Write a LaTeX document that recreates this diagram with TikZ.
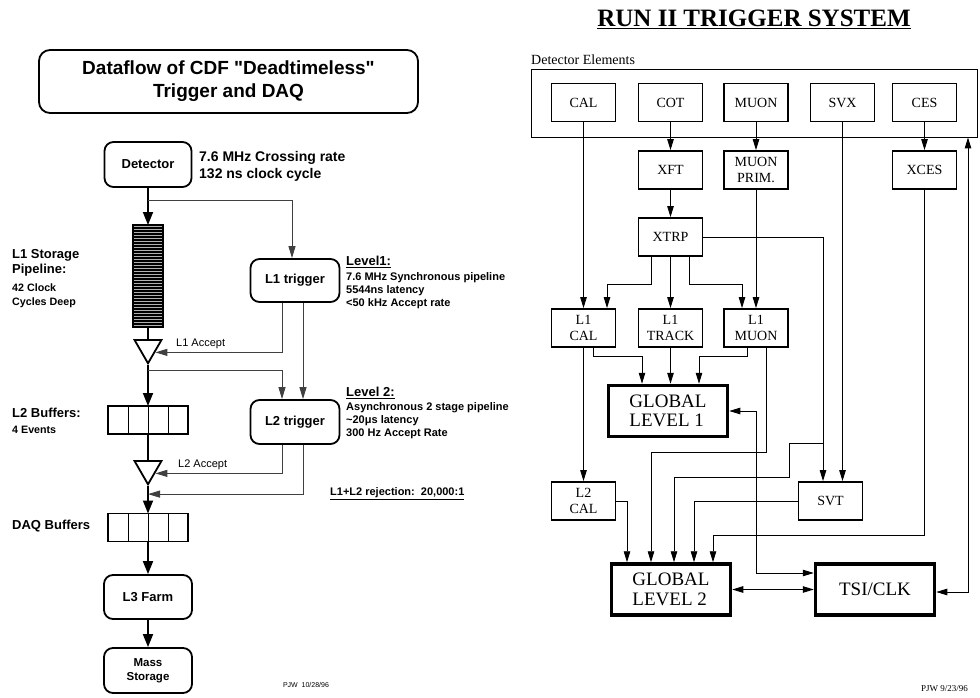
\documentclass[tikz,border=0pt]{standalone}
\usepackage{fontspec}
\setmainfont{Liberation Serif}
\setsansfont{Liberation Sans}
\usepackage{tikz}
\usetikzlibrary{arrows.meta, positioning, shapes.geometric}
\newcommand{\fsz}[2]{\fontsize{#1}{#2}\selectfont}

\begin{document}
\begin{tikzpicture}[x=1pt, y=-1pt,
  rbox/.style={draw, line width=1.8pt, rounded corners=9pt, align=center, inner sep=0pt,
    font=\sffamily\bfseries\fsz{13}{15}},
  buf/.style={draw, line width=1.8pt, minimum width=80pt, minimum height=28pt, inner sep=0pt, outer sep=0pt},
  gate/.style={draw, line width=1.8pt, regular polygon, regular polygon sides=3,
    shape border rotate=180, minimum size=31pt, inner sep=0pt},
  flow/.style={line width=1.8pt, -{Triangle[length=13pt, width=10pt]}},
  sig/.style={line width=1pt, black!75, -{Triangle[length=12pt, width=7pt]}},
  elem/.style={draw, line width=1.8pt, minimum width=64pt, minimum height=38pt, inner sep=0pt,
    align=center, font=\fsz{14}{16}},
  glob/.style={draw, line width=3.5pt, minimum width=119pt, minimum height=51pt, inner sep=0pt,
    align=left, font=\fsz{19}{19.5}},
  link/.style={line width=0.9pt, -{Triangle[length=11pt, width=6.5pt]}},
  biLink/.style={line width=0.9pt, {Triangle[length=11pt, width=6.5pt]}-{Triangle[length=11pt, width=6.5pt]}}]
\useasboundingbox (0,0) rectangle (980,698);

% ---- left: dataflow ----
\node[rbox, rounded corners=11pt, minimum width=379pt, minimum height=63pt,
      font=\sffamily\bfseries\fsz{19}{23}] (title) at (228.5,81.5)
  {Dataflow of CDF \textquotedbl Deadtimeless\textquotedbl\\Trigger and DAQ};

\node[rbox, minimum width=87pt, minimum height=45pt] (det) at (148,164.5) {Detector};
\node[anchor=west, align=left, inner sep=0pt, font=\sffamily\bfseries\fsz{14}{17}] (rate) at (199,166.5)
  {7.6 MHz Crossing rate\\132 ns clock cycle};

\node[draw, line width=1.8pt, fill=gray!60, minimum width=30pt, minimum height=102pt,
      inner sep=0pt, outer sep=0pt] (pipe) at (148,276) {};
\foreach \k in {1,...,33}
  \draw[line width=1.2pt] ([yshift={-3pt*\k}]pipe.north west) -- ([yshift={-3pt*\k}]pipe.north east);
\node[anchor=west, align=left, inner sep=0pt, font=\sffamily\bfseries\fsz{10.7}{14}] (pipetxt) at (12,278.5)
  {{\fsz{13}{14}L1 Storage}\\[1pt]{\fsz{13}{14}Pipeline:}\\[3.5pt]42 Clock\\Cycles Deep};

\node[gate] (gate1) at (148,347.8) {};
\node[anchor=west, inner sep=0pt, font=\sffamily\fsz{11}{13}] (acc1) at (176,344) {L1 Accept};

\node[buf] (l2buf) at (148,420) {};
\node[anchor=west, align=left, inner sep=0pt, font=\sffamily\bfseries\fsz{10.7}{16}] (l2buftxt) at (12,421)
  {{\fsz{13}{16}L2 Buffers:}\\4 Events};

\node[gate] (gate2) at (148,468.8) {};
\node[anchor=west, inner sep=0pt, font=\sffamily\fsz{11}{13}] (acc2) at (178,465) {L2 Accept};

\node[buf] (daqbuf) at (148,527.5) {};
\node[anchor=west, inner sep=0pt, font=\sffamily\bfseries\fsz{13}{15}] (daqtxt) at (12,526) {DAQ Buffers};
\foreach \b in {l2buf,daqbuf}
  \foreach \k in {-20,0,20}
    \draw[line width=1pt] ([xshift={\k*1pt}]\b.north) -- ([xshift={\k*1pt}]\b.south);

\node[rbox, minimum width=88pt, minimum height=44pt] (l3) at (148,597) {L3 Farm};
\node[rbox, minimum width=88pt, minimum height=45pt, font=\sffamily\bfseries\fsz{11.5}{14}] (mass) at (148,670.5)
  {Mass\\Storage};

\node[rbox, minimum width=89pt, minimum height=43pt] (l1trig) at (295,280.5) {L1 trigger};
\node[rbox, minimum width=89pt, minimum height=44pt] (l2trig) at (295,422) {L2 trigger};

\node[anchor=west, align=left, inner sep=0pt, font=\sffamily\bfseries\fsz{11}{13}] (lv1) at (346,282.5)
  {{\fsz{13}{13}\underline{Level1:}}\\[2pt]7.6 MHz Synchronous pipeline\\5544ns latency\\<50 kHz Accept rate};
\node[anchor=west, align=left, inner sep=0pt, font=\sffamily\bfseries\fsz{11}{13}] (lv2) at (346,413)
  {{\fsz{13}{13}\underline{Level 2:}}\\[1pt]Asynchronous 2 stage pipeline\\\textasciitilde20μs latency\\300 Hz Accept Rate};
\node[anchor=west, inner sep=0pt, font=\sffamily\bfseries\fsz{11}{13}] (rej) at (330,494)
  {\underline{L1+L2 rejection:\ \ 20,000:1}};
\node[inner sep=0pt, font=\sffamily\fsz{7}{8}] (date1) at (306,685) {PJW\ \ 10/28/96};

\draw[flow] (det) -- (pipe);
\draw[sig] ([yshift=-13pt]det.south) -| ([xshift=-3pt]l1trig.north);
\draw[line width=1.8pt] (pipe) -- (gate1);
\draw[flow] (gate1) -- (l2buf);
\draw[line width=1.8pt] (l2buf) -- (gate2);
\draw[flow] (gate2) -- (daqbuf);
\draw[flow] (daqbuf) -- (l3);
\draw[flow] (l3) -- (mass);
\draw[sig] ([xshift=-13pt]l1trig.south) |- (gate1.-32);
\draw[sig] ([xshift=8pt]l1trig.south) -- ([xshift=8pt]l2trig.north);
\draw[sig] ([yshift=-5pt]gate1.south) -| ([xshift=-13pt]l2trig.north);
\draw[sig] ([xshift=-13pt]l2trig.south) |- (gate2.-32);
\draw[sig] ([xshift=8pt]l2trig.south) |- ([yshift=-8pt]gate2.south);

% ---- right: run II trigger system ----
\node[anchor=base, inner sep=0pt, font=\bfseries\fsz{25}{27}] (sysname) at (754,26.7)
  {\underline{RUN II TRIGGER SYSTEM}};
\node[anchor=base west, inner sep=0pt, font=\fsz{14}{16}] (detlbl) at (531,65) {Detector Elements};
\node[draw, line width=0.9pt, minimum width=446pt, minimum height=68pt, inner sep=0pt] (detel) at (754,103) {};

\node[elem] (cal) at (583.5,102.5) {CAL};
\node[elem] (cot) at (670.5,102.5) {COT};
\node[elem] (muon) at (756,102.5) {MUON};
\node[elem] (svx) at (842.5,102.5) {SVX};
\node[elem] (ces) at (924.5,102.5) {CES};

\node[elem] (xft) at (670.5,170) {XFT};
\node[elem] (muprim) at (756,170) {MUON\\PRIM.};
\node[elem] (xces) at (924.5,170) {XCES};
\node[elem] (xtrp) at (670.5,237) {XTRP};

\node[elem] (l1cal) at (583.5,328) {L1\\CAL};
\node[elem] (l1trk) at (670.5,328) {L1\\TRACK};
\node[elem] (l1mu) at (756,328) {L1\\MUON};
\node[glob] (gl1) at (668,411) {GLOBAL\\LEVEL 1};

\node[elem] (l2cal) at (583.5,501) {L2\\CAL};
\node[elem] (svt) at (830.5,501) {SVT};
\node[glob] (gl2) at (671,589.5) {GLOBAL\\LEVEL 2};
\node[glob] (tsi) at (875,589.5) {TSI/CLK};

\node[anchor=base east, inner sep=0pt, font=\fsz{9}{10}] (date2) at (968,691) {PJW 9/23/96};

\draw[link] (cot) -- (xft);
\draw[link] (muon) -- (muprim);
\draw[link] (ces) -- (xces);
\draw[link] (xft) -- (xtrp);
\draw[link] (cal) -- (l1cal);
\draw[link] (l1cal) -- (l2cal);
\draw[link] ([xshift=-19.5pt]xtrp.south) -- ++(0,28) -| ([xshift=23.5pt]l1cal.north);
\draw[link] (xtrp) -- (l1trk);
\draw[link] ([xshift=18.5pt]xtrp.south) -- ++(0,28) -| ([xshift=-14pt]l1mu.north);
\draw[link] (muprim) -- (l1mu);
\draw[link] (xtrp.east) -| ([xshift=-7.5pt]svt.north);
\path ([xshift=-7.5pt]svt.north) ++(0,-38) coordinate (svtjoin);
\draw[link] (svtjoin) -- ++(-34,0) -- ++(0,34) -| ([xshift=3pt]gl2.north);
\draw[link] (svx) -- (svx |- svt.north);
\draw[link] ([xshift=9.5pt]l1cal.south) -- ++(0,9) -| ([xshift=-26pt]gl1.north);
\draw[link] (l1trk) -- (l1trk |- gl1.north);
\draw[link] ([xshift=-9pt]l1mu.south) -- ++(0,9) -| ([xshift=31pt]gl1.north);
\draw[link] ([xshift=10pt]l1mu.south) -- ++(0,105) -| ([xshift=-20pt]gl2.north);
\draw[link] (l2cal.east) -| ([xshift=-44pt]gl2.north);
\draw[link] (svt.west) -| ([xshift=23pt]gl2.north);
\draw[link] (xces.south) -- ++(0,346) -| ([xshift=42pt]gl2.north);
\draw[biLink] (gl1.east) -- ++(27,0) |- ([yshift=16.5pt]tsi.west);
\draw[biLink] (gl2) -- (tsi);
\draw[biLink] ([yshift=-2.5pt]tsi.east) -| ([xshift=214pt]detel.south);
\end{tikzpicture}
\end{document}
